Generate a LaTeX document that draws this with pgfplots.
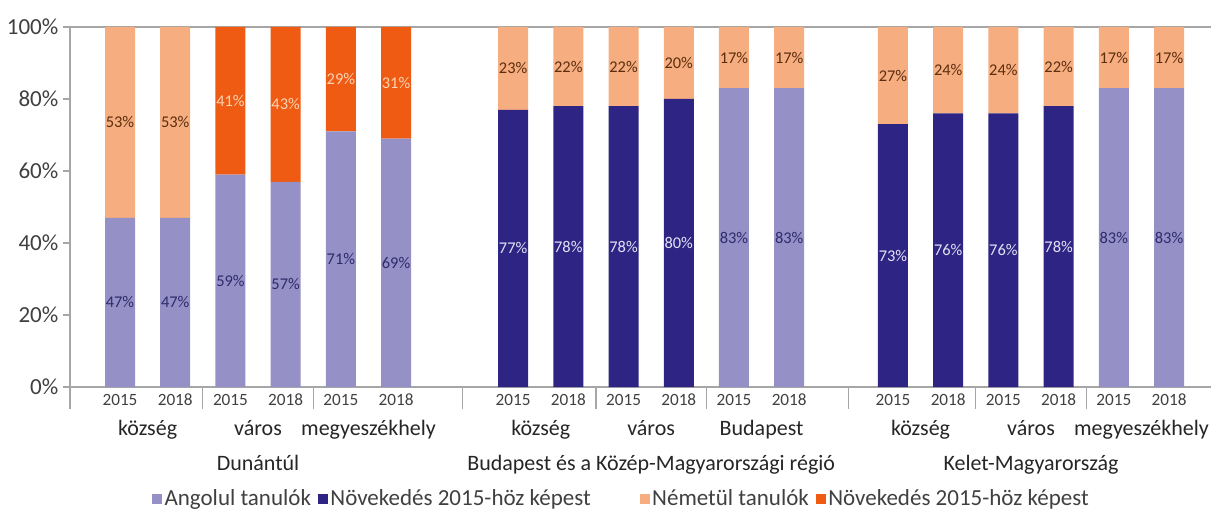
\documentclass[border=0pt]{standalone}
\usepackage{pgfplots}
\pgfplotsset{compat=1.18}
\usepackage{pgfplotstable}
\usepackage{fontspec}
\setmainfont{Carlito}
\definecolor{angol}{HTML}{9591C7}
\definecolor{angoln}{HTML}{2E2483}
\definecolor{nemet}{HTML}{F6AD80}
\definecolor{nemetn}{HTML}{EF5B12}
\definecolor{axisgray}{HTML}{A6A6A6}
\definecolor{txt}{HTML}{404040}
\definecolor{lbl}{HTML}{262626}
\definecolor{lblA}{HTML}{2F2A6B}
\definecolor{lblAN}{HTML}{E4E2F5}
\definecolor{lblG}{HTML}{5C2E0E}
\definecolor{lblGN}{HTML}{FBD3B5}

\pgfplotstableread{
x     a   an  g   gn
0     47  0   53  0
1     47  0   53  0
2     59  0   0   41
3     57  0   0   43
4     71  0   0   29
5     69  0   0   31
7.12  0   77  23  0
8.12  0   78  22  0
9.12  0   78  22  0
10.12 0   80  20  0
11.12 83  0   17  0
12.12 83  0   17  0
14    0   73  27  0
15    0   76  24  0
16    0   76  24  0
17    0   78  22  0
18    83  0   17  0
19    83  0   17  0
}\data

% label positions: middle of each segment
\pgfplotstableread{
x     y     v
0     23.5  47
1     23.5  47
2     29.5  59
3     28.5  57
4     35.5  71
5     34.5  69
11.12 41.5  83
12.12 41.5  83
18    41.5  83
19    41.5  83
}\labA
\pgfplotstableread{
x     y     v
7.12  38.5  77
8.12  39    78
9.12  39    78
10.12 40    80
14    36.5  73
15    38    76
16    38    76
17    39    78
}\labAN
\pgfplotstableread{
x     y     v
0     73.5  53
1     73.5  53
7.12  88.5  23
8.12  89    22
9.12  89    22
10.12 90    20
11.12 91.5  17
12.12 91.5  17
14    86.5  27
15    88    24
16    88    24
17    89    22
18    91.5  17
19    91.5  17
}\labG
\pgfplotstableread{
x     y     v
2     79.5  41
3     78.5  43
4     85.5  29
5     84.5  31
}\labGN

\pgfplotsset{
  sqlegend/.style={legend image code/.code={\fill[##1] (0pt,-2.5pt) rectangle (5pt,2.5pt);}},
  base/.style={at={(35pt,61pt)}, anchor=south west,
    width=570.5pt, height=180pt, scale only axis,
    xmin=-0.906, xmax=19.76, ymin=0, ymax=100, clip=false},
  labs/.style={only marks, mark=*, mark size=0pt, mark options={draw=none, fill=none},
    point meta=explicit symbolic, nodes near coords={\pgfplotspointmeta\%},
    nodes near coords style={anchor=center, font=\fontsize{8.2}{9}\selectfont, text=#1}},
}

\begin{document}
\begin{tikzpicture}
\path[use as bounding box] (0pt,0pt) rectangle (605.5pt,254.5pt);
\begin{axis}[
  base,
  ybar stacked, bar width=15pt,
  /pgf/number format/assume math mode=true,
  axis lines=left, axis line style={-, draw=axisgray, line width=0.6pt},
  ytick={0,20,40,60,80,100},
  yticklabel={\pgfmathprintnumber{\tick}\%},
  yticklabel style={font=\fontsize{11.5}{13}\selectfont, text=txt, xshift=1.2pt},
  ytick style={draw=axisgray, line width=0.6pt},
  major tick length=3.5pt, tick align=outside,
  extra y ticks={100}, extra y tick labels={},
  extra y tick style={grid=major, major grid style={axisgray, line width=0.6pt}},
  xtick={0,1,2,3,4,5,7.12,8.12,9.12,10.12,11.12,12.12,14,15,16,17,18,19},
  xticklabels={2015,2018,2015,2018,2015,2018,2015,2018,2015,2018,2015,2018,2015,2018,2015,2018,2015,2018},
  xticklabel style={font=\fontsize{8.6}{10}\selectfont, text=txt, yshift=3.5pt},
  xtick style={draw=none},
  extra x ticks={-0.906,1.5,3.5,6.2,8.62,10.62,13.19,15.5,17.5},
  extra x tick labels={},
  extra x tick style={xtick style={draw=axisgray, line width=0.6pt}, major tick length=11pt, tick align=outside},
  legend style={at={(0.483,-0.311)}, anchor=center, draw=none, fill=none,
    legend columns=4, font=\fontsize{11.5}{13}\selectfont, text=txt,
    nodes={inner sep=0.8pt},
    /tikz/every odd column/.append style={column sep=0.5pt},
    /tikz/every even column/.append style={column sep=2.6pt}},
]
\addplot[fill=angol, draw=none, sqlegend] table[x=x, y=a] {\data};
\addplot[fill=angoln, draw=none, sqlegend] table[x=x, y=an] {\data};
\addplot[fill=nemet, draw=none, sqlegend] table[x=x, y=g] {\data};
\addplot[fill=nemetn, draw=none, sqlegend] table[x=x, y=gn] {\data};
\legend{Angolul tanulók, Növekedés 2015-höz képest\rule{21pt}{0pt}, Németül tanulók, Növekedés 2015-höz képest}

\node[anchor=base, font=\fontsize{11}{13}\selectfont, text=lbl] at (axis cs:0.5,-13.6) {község};
\node[anchor=base, font=\fontsize{11}{13}\selectfont, text=lbl] at (axis cs:2.5,-13.6) {város};
\node[anchor=base, font=\fontsize{11}{13}\selectfont, text=lbl] at (axis cs:4.5,-13.6) {megyeszékhely};
\node[anchor=base, font=\fontsize{11}{13}\selectfont, text=lbl] at (axis cs:7.62,-13.6) {község};
\node[anchor=base, font=\fontsize{11}{13}\selectfont, text=lbl] at (axis cs:9.62,-13.6) {város};
\node[anchor=base, font=\fontsize{11}{13}\selectfont, text=lbl] at (axis cs:11.62,-13.6) {Budapest};
\node[anchor=base, font=\fontsize{11}{13}\selectfont, text=lbl] at (axis cs:14.5,-13.6) {község};
\node[anchor=base, font=\fontsize{11}{13}\selectfont, text=lbl] at (axis cs:16.5,-13.6) {város};
\node[anchor=base, font=\fontsize{11}{13}\selectfont, text=lbl] at (axis cs:18.5,-13.6) {megyeszékhely};
\node[anchor=base, font=\fontsize{11}{13}\selectfont, text=lbl] at (axis cs:2.5,-23.3) {Dunántúl};
\node[anchor=base, font=\fontsize{11}{13}\selectfont, text=lbl] at (axis cs:9.62,-23.3) {Budapest és a Közép-Magyarországi régió};
\node[anchor=base, font=\fontsize{11}{13}\selectfont, text=lbl] at (axis cs:16.5,-23.3) {Kelet-Magyarország};
\end{axis}
\begin{axis}[base, hide axis]
\addplot[labs=lblA] table[x=x, y=y, meta=v] {\labA};
\addplot[labs=lblAN] table[x=x, y=y, meta=v] {\labAN};
\addplot[labs=lblG] table[x=x, y=y, meta=v] {\labG};
\addplot[labs=lblGN] table[x=x, y=y, meta=v] {\labGN};
\end{axis}
\end{tikzpicture}
\end{document}
